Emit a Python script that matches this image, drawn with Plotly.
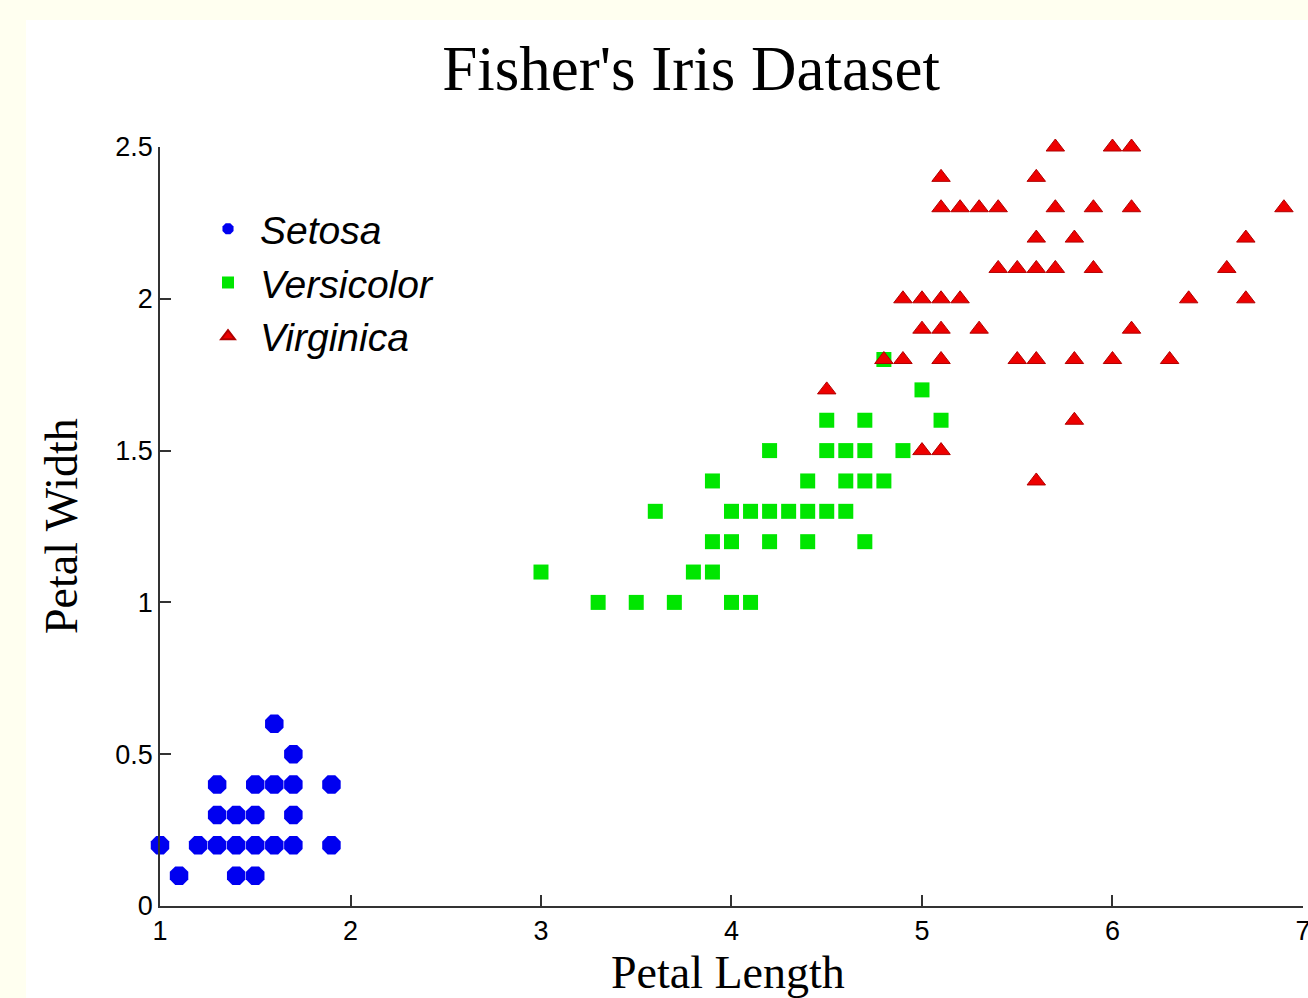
import plotly.graph_objects as go

# Setosa
setosa_x = [1.6, 1.7, 1.3, 1.5, 1.6, 1.7, 1.9, 1.3, 1.4, 1.5, 1.7,
            1.0, 1.2, 1.3, 1.4, 1.5, 1.6, 1.7, 1.9, 1.1, 1.4, 1.5]
setosa_y = [0.6, 0.5, 0.4, 0.4, 0.4, 0.4, 0.4, 0.3, 0.3, 0.3, 0.3,
            0.2, 0.2, 0.2, 0.2, 0.2, 0.2, 0.2, 0.2, 0.1, 0.1, 0.1]

# Versicolor
versicolor_x = [4.8, 5.0, 4.5, 4.7, 5.1, 4.2, 4.5, 4.6, 4.7, 4.9,
                3.9, 4.4, 4.6, 4.7, 4.8, 3.6, 4.0, 4.1, 4.2, 4.3, 4.4, 4.5, 4.6,
                3.9, 4.0, 4.2, 4.4, 4.7, 3.0, 3.8, 3.9, 3.3, 3.5, 3.7, 4.0, 4.1]
versicolor_y = [1.8, 1.7, 1.6, 1.6, 1.6, 1.5, 1.5, 1.5, 1.5, 1.5,
                1.4, 1.4, 1.4, 1.4, 1.4, 1.3, 1.3, 1.3, 1.3, 1.3, 1.3, 1.3, 1.3,
                1.2, 1.2, 1.2, 1.2, 1.2, 1.1, 1.1, 1.1, 1.0, 1.0, 1.0, 1.0, 1.0]

# Virginica
virginica_x = [5.7, 6.0, 6.1,
               5.1, 5.6,
               5.1, 5.2, 5.3, 5.4, 5.7, 5.9, 6.1, 6.9,
               5.6, 5.8, 6.7,
               5.4, 5.5, 5.6, 5.7, 5.9, 6.6,
               4.9, 5.0, 5.1, 5.2, 6.4, 6.7,
               5.0, 5.1, 5.3, 6.1,
               4.8, 4.9, 5.1, 5.5, 5.6, 5.8, 6.0, 6.3,
               4.5, 5.8, 5.0, 5.1, 5.6]
virginica_y = [2.5, 2.5, 2.5,
               2.4, 2.4,
               2.3, 2.3, 2.3, 2.3, 2.3, 2.3, 2.3, 2.3,
               2.2, 2.2, 2.2,
               2.1, 2.1, 2.1, 2.1, 2.1, 2.1,
               2.0, 2.0, 2.0, 2.0, 2.0, 2.0,
               1.9, 1.9, 1.9, 1.9,
               1.8, 1.8, 1.8, 1.8, 1.8, 1.8, 1.8, 1.8,
               1.7, 1.6, 1.5, 1.5, 1.4]

x_ticks = [1, 2, 3, 4, 5, 6, 7]
y_ticks = [0, 0.5, 1, 1.5, 2, 2.5]
y_tick_text = ["0", "0.5", "1", "1.5", "2", "2.5"]

fig = go.Figure()
fig.add_trace(go.Scatter(x=setosa_x, y=setosa_y, mode="markers", name="Setosa",
                         marker=dict(symbol="octagon", size=20, color="#0000F0", line=dict(width=0)),
                         cliponaxis=False))
fig.add_trace(go.Scatter(x=versicolor_x, y=versicolor_y, mode="markers", name="Versicolor",
                         marker=dict(symbol="square", size=15, color="#00E600", line=dict(width=0)),
                         cliponaxis=False))
fig.add_trace(go.Scatter(x=virginica_x, y=virginica_y, mode="markers", name="Virginica",
                         marker=dict(symbol="triangle-up", size=16, color="#EE0000",
                                     line=dict(width=1, color="#B00000")),
                         cliponaxis=False))

axis_common = dict(showline=True, linecolor="#333333", linewidth=1.5,
                   ticks="inside", ticklen=11, tickwidth=1.5, tickcolor="#333333",
                   showgrid=False, zeroline=False, ticklabeloverflow="allow",
                   automargin=False,
                   tickfont=dict(family="Liberation Sans, Arial", size=27, color="black"))

fig.update_xaxes(range=[1, 7.0001], tickvals=x_ticks, **axis_common)
fig.update_yaxes(range=[0, 2.5], tickvals=y_ticks, ticktext=y_tick_text, **axis_common)

fig.update_layout(
    width=1308, height=998,
    margin=dict(l=160, r=5, t=147, b=92),
    paper_bgcolor="#FFFFF0",
    plot_bgcolor="white",
    showlegend=True,
    legend=dict(x=0.0315, y=0.9342, xanchor="left", yanchor="top",
                bgcolor="rgba(0,0,0,0)", itemsizing="constant", itemwidth=54,
                font=dict(family="Liberation Sans, Arial", size=39, style="italic", color="black")),
    title=dict(text="Fisher's Iris Dataset", x=0.4646, xref="paper", xanchor="center",
               y=1 - 68 / 998, yref="container", yanchor="middle",
               font=dict(family="Liberation Serif, Times New Roman", size=63, color="black")),
    shapes=[dict(type="rect", xref="paper", yref="paper",
                 x0=(26 - 160) / 1143, x1=1.1, y0=-0.2, y1=(906 - 20) / 759,
                 fillcolor="white", line=dict(width=0), layer="below")],
    annotations=[
        dict(text="Petal Length", xref="paper", yref="paper", x=0.497, y=-0.087,
             xanchor="center", yanchor="middle", showarrow=False,
             font=dict(family="Liberation Serif, Times New Roman", size=46, color="black")),
        dict(text="Petal Width", xref="paper", yref="paper", x=-0.0857, y=0.5007,
             xanchor="center", yanchor="middle", showarrow=False, textangle=-90,
             font=dict(family="Liberation Serif, Times New Roman", size=46, color="black")),
    ],
)

fig.write_html("out.html")
